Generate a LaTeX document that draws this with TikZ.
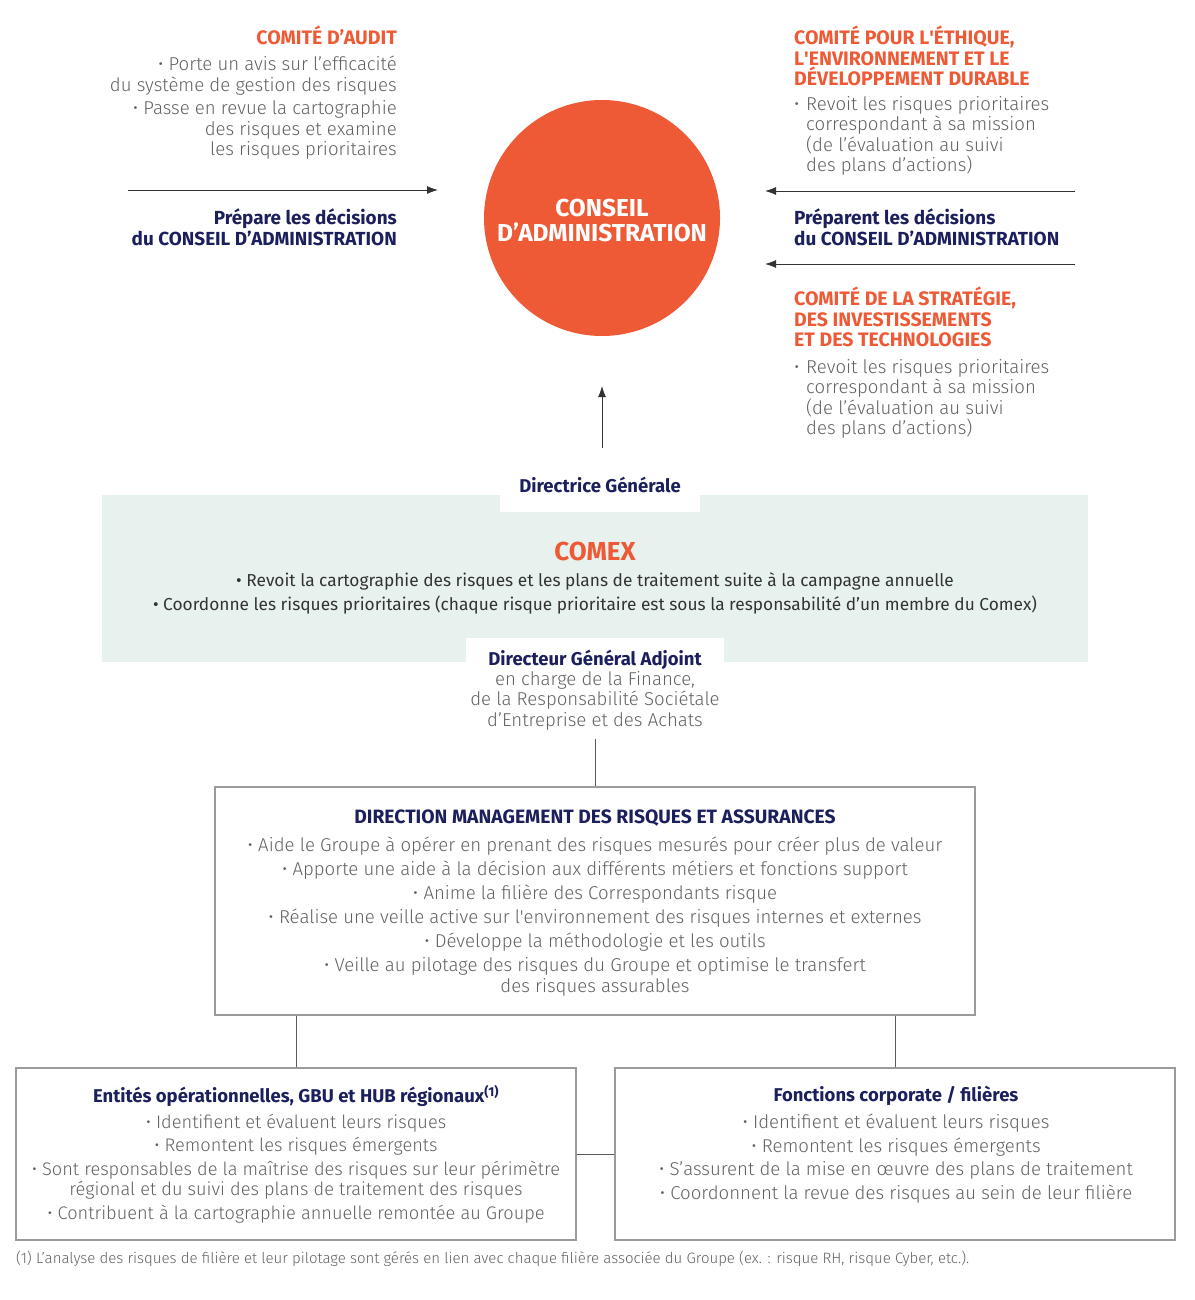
\documentclass[tikz,border=0pt]{standalone}
\usepackage{fontspec}
\setmainfont{Fira Sans}
\newfontfamily\leger{Fira Sans Light}
\usetikzlibrary{arrows.meta}
\definecolor{orangeca}{HTML}{EE5A35}
\definecolor{marine}{HTML}{1B1F5C}
\definecolor{grisT}{HTML}{626262}
\definecolor{grisF}{HTML}{333333}
\definecolor{vertcomex}{HTML}{E7F2EE}
\definecolor{filet}{HTML}{9B9B9B}
\newcommand{\puce}{\makebox[12pt][l]{•}}
\newcommand{\retrait}{\hspace*{12pt}}
\begin{document}
\begin{tikzpicture}[>={Latex[length=11pt,width=8pt]},x=1pt,y=-1pt,
  titre/.style={font=\bfseries\fontsize{19.5}{20.5}\selectfont,text=orangeca,inner sep=0pt},
  chef/.style={font=\bfseries\fontsize{18.5}{20.5}\selectfont,text=marine,inner sep=0pt},
  texte/.style={font=\leger\fontsize{18.6}{20.5}\selectfont,text=grisT,inner sep=0pt},
  cadre/.style={draw=filet,line width=1.2pt,inner sep=0pt},
  lien/.style={draw=black!65,line width=1pt},
  fleche/.style={draw=black!80,line width=0.9pt,->}]
\useasboundingbox (0,0) rectangle (1194,1300);
\node[circle,fill=orangeca,minimum size=236pt,inner sep=0pt] (ca) at (602,218) {};
\node[text=white,align=center,inner sep=0pt,font=\bfseries\fontsize{24.5}{25}\selectfont] (catxt) at (602,221)
  {CONSEIL\\D’ADMINISTRATION};
\node[titre,anchor=north east,align=right] (audit) at (397,26) {COMITÉ D’AUDIT};
\node[texte,anchor=north east,align=right] (auditt) at (397,56) {• Porte un avis sur l’efficacité\\
  du système de gestion des risques\\[3pt]
  • Passe en revue la cartographie\\des risques et examine\\les risques prioritaires};
\node[chef,anchor=north east,align=right,font=\bfseries\fontsize{18.9}{20.5}\selectfont] (prep) at (397,209)
  {Prépare les décisions\\du CONSEIL D’ADMINISTRATION};
\coordinate (g1) at (128,190);
\coordinate (g2) at (438,190);
\draw[fleche] (g1) -- (g2);
\node[titre,anchor=north west,align=left] (ethique) at (794,26) {COMITÉ POUR L\textquotesingle ÉTHIQUE,\\
  L\textquotesingle ENVIRONNEMENT ET LE\\DÉVELOPPEMENT DURABLE};
\node[texte,anchor=north west,align=left] (ethiquet) at (794,96) {\puce Revoit les risques prioritaires\\
  \retrait correspondant à sa mission\\\retrait (de l’évaluation au suivi\\\retrait des plans d’actions)};
\node[chef,anchor=north west,align=left,font=\bfseries\fontsize{18.9}{20.5}\selectfont] (prepd) at (794,209)
  {Préparent les décisions\\du CONSEIL D’ADMINISTRATION};
\coordinate (d1) at (1075,191);
\coordinate (d2) at (765,191);
\draw[fleche] (d1) -- (d2);
\coordinate (d3) at (1075,264);
\coordinate (d4) at (765,264);
\draw[fleche] (d3) -- (d4);
\node[titre,anchor=north west,align=left] (strat) at (794,287) {COMITÉ DE LA STRATÉGIE,\\
  DES INVESTISSEMENTS\\ET DES TECHNOLOGIES};
\node[texte,anchor=north west,align=left] (stratt) at (794,359) {\puce Revoit les risques prioritaires\\
  \retrait correspondant à sa mission\\\retrait (de l’évaluation au suivi\\\retrait des plans d’actions)};
\coordinate (v1) at (602,448);
\coordinate (v2) at (602,386);
\draw[fleche] (v1) -- (v2);
\node[fill=vertcomex,minimum width=986pt,minimum height=167pt,inner sep=0pt] (comex) at (595,578.5) {};
\node[fill=white,minimum width=200pt,minimum height=22pt,inner sep=0pt] (dgfond) at (600,501) {};
\node[fill=white,minimum width=258pt,minimum height=24pt,inner sep=0pt] (dgafond) at (595,650) {};
\node[chef,anchor=north] (dg) at (600,477) {Directrice Générale};
\node[titre,anchor=north,font=\bfseries\fontsize{26}{26}\selectfont] (comext) at (595,542) {COMEX};
\node[inner sep=0pt,anchor=north,align=center,text=grisF,font=\fontsize{17.3}{24}\selectfont] (comexl) at (595,572)
  {• Revoit la cartographie des risques et les plans de traitement suite à la campagne annuelle\\
  • Coordonne les risques prioritaires (chaque risque prioritaire est sous la responsabilité d’un membre du Comex)};
\node[chef,anchor=north] (dga) at (595,650) {Directeur Général Adjoint};
\node[texte,anchor=north,align=center] (dgat) at (595,671) {en charge de la Finance,\\
  de la Responsabilité Sociétale\\d’Entreprise et des Achats};
\node[cadre,minimum width=760pt,minimum height=228pt] (dmra) at (595,901) {};
\draw[lien] (dmra.north) -- ++(0,-47);
\node[chef,anchor=north,font=\bfseries\fontsize{19.3}{20.5}\selectfont] (dmrat) at (595,810) {DIRECTION MANAGEMENT DES RISQUES ET ASSURANCES};
\node[texte,anchor=north,align=center] (dmral) at (595,837) {• Aide le Groupe à opérer en prenant des risques mesurés pour créer plus de valeur\\[3.5pt]
  • Apporte une aide à la décision aux différents métiers et fonctions support\\[3.5pt]
  • Anime la filière des Correspondants risque\\[3.5pt]
  • Réalise une veille active sur l'environnement des risques internes et externes\\[3.5pt]
  • Développe la méthodologie et les outils\\[3.5pt]
  • Veille au pilotage des risques du Groupe et optimise le transfert\\des risques assurables};
\node[cadre,minimum width=560pt,minimum height=172pt] (ent) at (296,1154) {};
\node[cadre,minimum width=560pt,minimum height=172pt] (fonc) at (895,1154) {};
\draw[lien] (ent.north) -- (ent.north |- dmra.south);
\draw[lien] (fonc.north) -- (fonc.north |- dmra.south);
\draw[lien] (ent.east) -- (fonc.west);
\node[chef,anchor=north] (entt) at (296,1085) {Entités opérationnelles, GBU et HUB régionaux\textsuperscript{(1)}};
\node[texte,anchor=north,align=center,font=\leger\fontsize{18.2}{20.5}\selectfont] (entl) at (296,1114) {• Identifient et évaluent leurs risques\\[3pt]
  • Remontent les risques émergents\\[3pt]
  • Sont responsables de la maîtrise des risques sur leur périmètre\\
  régional et du suivi des plans de traitement des risques\\[3pt]
  • Contribuent à la cartographie annuelle remontée au Groupe};
\node[chef,anchor=north] (fonct) at (896,1086) {Fonctions corporate / filières};
\node[texte,anchor=north,align=center] (foncl) at (896,1114) {• Identifient et évaluent leurs risques\\[3pt]
  • Remontent les risques émergents\\[3pt]
  • S’assurent de la mise en œuvre des plans de traitement\\[3pt]
  • Coordonnent la revue des risques au sein de leur filière};
\node[texte,anchor=north west,font=\leger\fontsize{15}{16}\selectfont] (note) at (16,1251)
  {(1) L’analyse des risques de filière et leur pilotage sont gérés en lien avec chaque filière associée du Groupe (ex. : risque RH, risque Cyber, etc.).};
\end{tikzpicture}
\end{document}
